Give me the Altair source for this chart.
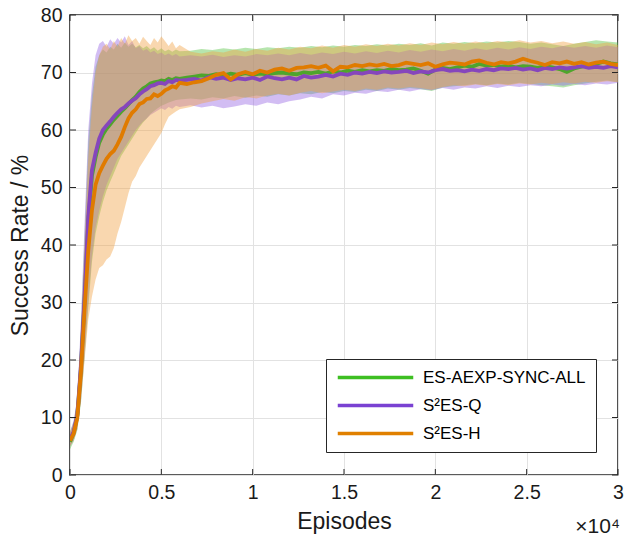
import altair as alt
import pandas as pd

SERIES = ["ES-AEXP-SYNC-ALL", "S\u00b2ES-Q", "S\u00b2ES-H"]
LINE_COLORS = ["#4ea52c", "#8646bc", "#e07b00"]
LEGEND_COLORS = ["#3ebf22", "#7a42d2", "#e08000"]
BAND_COLORS = ["#52c23e", "#9462e2", "#f0a040"]

X_TICKS = [0, 0.5, 1, 1.5, 2, 2.5, 3]
Y_TICKS = [0, 10, 20, 30, 40, 50, 60, 70, 80]

# x positions in units of 10^4 episodes
X_EARLY = [round(0.02 * i, 2) for i in range(31)]
X_LATE = [round(0.64 + 0.04 * i, 2) for i in range(60)]
LINE_X = X_EARLY + X_LATE
BX_LATE = [round(0.66 + 0.06 * i, 2) for i in range(40)]
BAND_X = X_EARLY + BX_LATE

# ---- mean curves ----
GREEN_MEAN = [
    5.8, 7.3, 10.3, 18.5, 30.5, 44.0, 52.0, 55.3, 57.8, 59.2,
    60.2, 61.0, 61.8, 62.5, 63.2, 63.8, 64.5, 65.2, 65.8, 66.6,
    67.2, 67.6, 68.1, 68.3, 68.4, 68.6, 68.5, 68.9, 68.7, 69.0,
    68.9,
    69.1, 69.3, 69.5, 69.4, 69.7, 69.5, 69.8, 69.6, 69.9, 69.6,
    69.8, 69.7, 69.9, 70.0, 69.8, 69.7, 70.0, 69.9, 70.1, 69.8,
    70.2, 70.0, 70.3, 70.1, 70.4, 70.2, 70.4, 70.3, 70.6, 70.4,
    70.5, 70.7, 70.3, 69.8, 70.5, 70.8, 70.6, 70.9, 71.2, 71.0,
    71.5, 71.2, 71.3, 71.0, 71.2, 70.9, 71.1, 71.0, 70.8, 71.1,
    70.9, 70.6, 70.1, 70.7, 71.0, 71.3, 71.5, 71.9, 71.6, 71.4,
]
PURPLE_MEAN = [
    6.2, 7.5, 10.5, 19.0, 31.0, 45.0, 53.0, 56.0, 58.5, 60.0,
    60.8, 61.5, 62.3, 63.0, 63.6, 64.0, 64.6, 65.1, 65.5, 66.2,
    66.7, 67.1, 67.6, 67.8, 68.1, 68.2, 68.0, 68.5, 68.3, 68.7,
    68.6,
    68.7, 68.9, 68.6, 69.2, 68.9, 69.1, 68.7, 69.0, 68.8, 69.1,
    68.7, 69.3, 69.0, 68.8, 69.1, 68.8, 69.4, 69.1, 69.3, 69.6,
    69.3, 69.8, 69.6, 70.0, 69.8, 70.1, 69.9, 70.2, 70.0, 70.1,
    70.3, 69.9, 70.2, 70.0, 70.4, 70.6, 70.3, 70.4, 70.2, 70.5,
    70.3, 70.6, 70.4, 70.7, 70.6, 70.8, 70.5, 70.7, 70.4, 70.8,
    70.6, 70.9, 70.7, 70.9, 71.1, 70.8, 71.0, 70.8, 71.1, 70.9,
]
ORANGE_MEAN = [
    6.0, 7.2, 10.0, 18.0, 29.0, 39.0, 46.0, 50.5, 52.5, 53.8,
    55.0, 55.8, 56.4, 57.5, 58.8, 60.5, 62.0, 63.0, 63.6, 64.5,
    64.8, 65.4, 65.5, 66.2, 65.9, 66.3, 66.9, 67.2, 67.6, 67.4,
    68.2,
    68.0, 68.3, 68.5, 69.0, 69.6, 69.9, 68.8, 69.7, 70.1, 69.7,
    70.3, 70.0, 70.5, 70.7, 70.3, 70.8, 70.9, 71.1, 70.8, 71.2,
    70.2, 71.0, 70.9, 71.3, 71.1, 71.4, 71.2, 71.5, 71.1, 71.3,
    71.7, 71.5, 71.3, 71.6, 71.0, 71.4, 71.7, 71.6, 71.4, 71.9,
    72.1, 71.7, 71.4, 71.8, 71.6, 71.9, 72.4, 72.0, 71.7, 71.3,
    71.8, 71.6, 71.9, 71.5, 71.8, 71.4, 71.7, 71.9, 71.5, 71.3,
]

# ---- variance bands ----
GREEN_LO = [
    4.5, 5.8, 7.8, 12.5, 20.5, 29.0, 37.0, 42.0, 45.0, 47.5,
    49.5, 51.0, 52.5, 54.0, 55.5, 56.5, 57.5, 58.5, 59.5, 60.5,
    61.3, 62.0, 62.8, 63.3, 63.8, 64.2, 64.5, 64.8, 65.0, 65.2,
    65.3,
    65.5, 65.3, 65.7, 65.5, 65.9, 65.6, 66.0, 65.8, 66.2, 66.0,
    66.4, 66.2, 66.6, 66.4, 66.8, 66.6, 67.0, 66.8, 67.2, 67.0,
    67.3, 67.1, 66.8, 67.4, 67.6, 67.8, 68.0, 67.8, 68.1, 67.9,
    68.2, 68.0, 67.8, 67.6, 67.4, 67.8, 68.1, 68.4, 68.6, 68.3,
]
GREEN_HI = [
    7.5, 9.3, 13.0, 26.0, 42.0, 58.0, 66.0, 71.0, 73.0, 74.0,
    73.5, 74.5, 74.0, 75.0, 74.3, 75.2, 74.5, 75.0, 74.4, 74.8,
    74.2, 74.6, 74.0, 74.4, 73.8, 74.2, 73.7, 74.0, 73.6, 74.0,
    73.7,
    73.8, 74.1, 73.9, 74.2, 74.0, 74.3, 74.1, 74.4, 74.2, 74.5,
    74.3, 74.6, 74.4, 74.7, 74.5, 74.8, 74.6, 74.9, 74.7, 75.0,
    74.8, 75.1, 74.7, 75.2, 75.0, 75.3, 75.1, 75.4, 75.2, 75.5,
    75.3, 75.0, 75.2, 74.9, 74.6, 75.0, 75.3, 75.6, 75.4, 75.2,
]
PURPLE_LO = [
    5.0, 6.0, 8.0, 13.0, 21.0, 30.0, 38.0, 43.0, 46.0, 48.5,
    50.5, 52.0, 53.5, 55.0, 56.0, 57.0, 58.0, 59.0, 60.0, 60.8,
    61.5, 62.0, 62.6, 63.0, 63.4, 63.8, 63.5, 64.0, 63.7, 64.2,
    64.0,
    64.3, 63.9, 64.2, 63.8, 64.1, 64.5, 64.2, 64.8, 64.5, 65.0,
    65.3, 65.8, 65.5, 66.2, 66.0, 66.5, 66.3, 66.8, 66.6, 67.0,
    66.7, 67.1, 66.9, 67.3, 67.0, 67.4, 67.2, 67.6, 67.3, 67.7,
    67.5, 67.8, 67.6, 67.9, 67.7, 68.0, 67.8, 68.1, 67.9, 68.2,
]
PURPLE_HI = [
    7.5, 9.5, 13.5, 27.0, 44.0, 60.0, 68.0, 73.0, 75.0, 75.5,
    74.5, 75.8, 75.0, 76.0, 75.2, 76.3, 74.8, 75.5, 74.2, 74.6,
    73.8, 74.1, 73.5, 73.8, 73.2, 73.5, 73.0, 73.3, 72.9, 73.2,
    72.8,
    73.0, 72.8, 73.1, 72.7, 73.0, 72.8, 73.2, 73.0, 73.3, 73.0,
    73.4, 73.1, 73.5, 73.2, 73.6, 73.3, 73.7, 73.4, 73.8, 73.5,
    73.9, 73.6, 74.0, 73.7, 74.1, 73.8, 74.2, 73.9, 74.3, 74.0,
    74.4, 74.1, 74.5, 74.2, 74.6, 74.3, 74.6, 74.3, 74.7, 74.4,
]
ORANGE_LO = [
    5.0, 6.0, 8.0, 13.0, 20.0, 27.0, 31.0, 34.0, 36.0, 36.5,
    37.5, 38.0, 39.5, 42.0, 44.0, 46.5, 49.0, 51.0, 52.0, 53.5,
    54.5, 55.5, 56.5, 57.5, 58.5, 59.5, 61.0, 62.3, 62.8, 63.2,
    63.6,
    64.0, 64.6, 65.0, 65.4, 65.1, 65.7, 65.5, 66.0, 66.3, 66.0,
    66.5, 66.8, 66.4, 66.7, 67.0, 66.8, 67.2, 67.0, 67.4, 67.2,
    67.5, 67.3, 67.0, 67.5, 67.8, 67.6, 67.9, 67.7, 68.0, 67.8,
    68.1, 67.9, 68.2, 68.0, 68.3, 68.1, 68.4, 68.2, 68.5, 68.3,
]
ORANGE_HI = [
    7.5, 9.0, 12.5, 24.0, 40.0, 55.0, 64.0, 70.0, 73.0, 74.5,
    75.0, 74.0, 75.5, 74.5, 76.0, 75.0, 76.5, 75.5, 76.0, 75.0,
    76.2, 75.5, 74.8, 76.0, 75.2, 76.3, 75.5, 74.6, 75.4, 74.2,
    74.8,
    73.6, 73.3, 73.7, 73.5, 74.0, 73.6, 74.1, 73.8, 74.3, 74.0,
    74.5, 74.2, 74.7, 74.3, 74.8, 74.5, 74.9, 74.6, 75.0, 74.7,
    75.1, 74.8, 75.2, 74.9, 75.3, 75.0, 75.4, 75.1, 75.5, 75.2,
    75.6, 75.2, 75.5, 75.1, 75.4, 75.0, 75.3, 74.9, 75.2, 74.8,
]

MEANS = [GREEN_MEAN, PURPLE_MEAN, ORANGE_MEAN]
LOS = [GREEN_LO, PURPLE_LO, ORANGE_LO]
HIS = [GREEN_HI, PURPLE_HI, ORANGE_HI]

W, H = 548, 460
FONT = "Liberation Sans"

xscale = alt.Scale(domain=[0, 3], nice=False, zero=False)
yscale = alt.Scale(domain=[0, 80], nice=False, zero=False)
xaxis = alt.Axis(values=X_TICKS, format="~g", title="Episodes", labelFlush=False)
yaxis = alt.Axis(values=Y_TICKS, title="Success Rate / %", labelFlush=False)

layers = []
# bands
for name, lo, hi, col in zip(SERIES, LOS, HIS, BAND_COLORS):
    df = pd.DataFrame({"x": BAND_X, "lo": lo, "hi": hi})
    layers.append(
        alt.Chart(df).mark_area(color=col, opacity=0.42, clip=True).encode(
            x=alt.X("x:Q", scale=xscale, axis=xaxis),
            y=alt.Y("lo:Q", scale=yscale, axis=yaxis),
            y2="hi:Q",
        )
    )
# mean lines
for name, m, col in zip(SERIES, MEANS, LINE_COLORS):
    df = pd.DataFrame({"x": LINE_X, "y": m})
    layers.append(
        alt.Chart(df).mark_line(color=col, strokeWidth=3.8, clip=True).encode(
            x=alt.X("x:Q", scale=xscale, axis=xaxis),
            y=alt.Y("y:Q", scale=yscale, axis=yaxis),
        )
    )

# legend-only layer
leg_rows = []
for name, m in zip(SERIES, MEANS):
    for xv, yv in zip(LINE_X, m):
        leg_rows.append({"x": xv, "y": yv, "series": name})
leg_df = pd.DataFrame(leg_rows)
layers.append(
    alt.Chart(leg_df).mark_line(strokeWidth=3.5).encode(
        x=alt.X("x:Q", scale=xscale, axis=xaxis),
        y=alt.Y("y:Q", scale=yscale, axis=yaxis),
        stroke=alt.Stroke(
            "series:N",
            scale=alt.Scale(domain=SERIES, range=LEGEND_COLORS),
            legend=alt.Legend(
                title=None, orient="none", legendX=256, legendY=344,
                direction="vertical", symbolType="stroke", symbolSize=5700,
                symbolStrokeWidth=3.5, clipHeight=17, labelFontSize=17,
                labelFont=FONT, labelColor="#000000", labelOffset=8,
                labelLimit=400, rowPadding=10, padding=10,
                strokeColor="#262626", fillColor="#ffffff", cornerRadius=0,
            ),
        ),
    ).transform_filter("datum.x < -1")
)

# inward ticks (MATLAB style)
xt = pd.DataFrame({"v": X_TICKS})
yt = pd.DataFrame({"v": Y_TICKS})
tick_color = "#262626"
layers.append(alt.Chart(xt).mark_rule(color=tick_color, strokeWidth=1).encode(
    x=alt.X("v:Q", scale=xscale, axis=xaxis), y=alt.value(H), y2=alt.value(H - 6)))
layers.append(alt.Chart(xt).mark_rule(color=tick_color, strokeWidth=1).encode(
    x=alt.X("v:Q", scale=xscale, axis=xaxis), y=alt.value(0), y2=alt.value(6)))
layers.append(alt.Chart(yt).mark_rule(color=tick_color, strokeWidth=1).encode(
    y=alt.Y("v:Q", scale=yscale, axis=yaxis), x=alt.value(0), x2=alt.value(6)))
layers.append(alt.Chart(yt).mark_rule(color=tick_color, strokeWidth=1).encode(
    y=alt.Y("v:Q", scale=yscale, axis=yaxis), x=alt.value(W - 6), x2=alt.value(W)))

# exponent label
layers.append(
    alt.Chart(pd.DataFrame({"t": ["\u00d710\u2074"]})).mark_text(
        align="right", baseline="alphabetic", font=FONT, fontSize=21, color="#1a1a1a"
    ).encode(x=alt.value(W + 2), y=alt.value(H + 58), text="t:N")
)

chart = alt.layer(*layers).properties(
    width=W, height=H,
    padding={"left": 70, "top": 15, "right": 7, "bottom": 67},
    autosize=alt.AutoSizeParams(type="none"),
).configure_view(
    stroke="#262626", strokeWidth=1.6
).configure_axis(
    labelFont=FONT, titleFont=FONT, labelFontSize=19.5, titleFontSize=23,
    titleFontWeight="normal", labelColor="#1a1a1a", titleColor="#1a1a1a",
    grid=True, gridColor="#e2e2e2", gridWidth=1, tickSize=0, domain=False,
    labelPadding=8, titlePadding=9,
).configure_axisY(titlePadding=8)

chart.save("out.html", embed_options={"renderer": "svg", "actions": False})
